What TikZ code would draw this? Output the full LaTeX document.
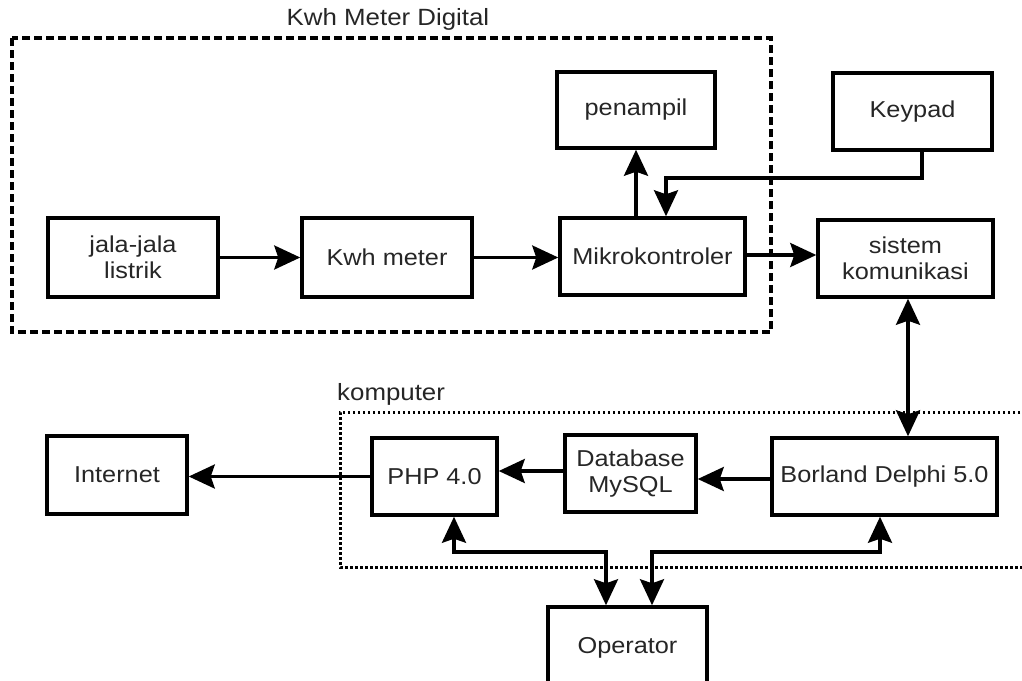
\documentclass[tikz,border=0pt]{standalone}
\usepackage{fontspec}
\setmainfont{Liberation Sans}[FakeStretch=1.1]
\usetikzlibrary{arrows.meta}
\begin{document}
\begin{tikzpicture}[x=1pt,y=-1pt,
  blk/.style={draw=black, line width=3.5pt, rectangle, inner sep=0pt, align=center,
    font=\fontsize{23}{25.5}\selectfont, text=black!85},
  arr/.style={line width=3.2pt, -{Stealth[length=26pt,width=24pt,inset=4pt]}},
  darr/.style={line width=3.2pt, {Stealth[length=26pt,width=24pt,inset=4pt]}-{Stealth[length=26pt,width=24pt,inset=4pt]}},
  grp/.style={line width=3.5pt, dash pattern=on 8pt off 4pt},
  dotgrp/.style={line width=3pt, dash pattern=on 2.5pt off 2.5pt},
  lbl/.style={font=\fontsize{23.5}{25}\selectfont, text=black!85, inner sep=0pt}]
\useasboundingbox (0,0) rectangle (1022,680);
\clip (0,0) rectangle (1022,680);
% groups
\draw[grp] (12,38) rectangle (771,332);
\node[lbl] (kmdlabel) at (388,19) {Kwh Meter Digital};
\draw[dotgrp] (1030,412) -- (340,412) -- (340,567) -- (1030,567);
\node[lbl, anchor=south west] (komplabel) at (337,406) {komputer};
% blocks
\node[blk, minimum width=170pt, minimum height=79pt] (jala) at (133,257.5) {jala-jala\\listrik};
\node[blk, minimum width=170pt, minimum height=79pt] (kwh) at (387,257.5) {Kwh meter};
\node[blk, minimum width=185pt, minimum height=77pt] (mikro) at (652.5,256.5) {Mikrokontroler};
\node[blk, minimum width=158pt, minimum height=76pt] (penampil) at (636,110) {penampil};
\node[blk, minimum width=159pt, minimum height=77pt] (keypad) at (912.5,111.5) {Keypad};
\node[blk, minimum width=175pt, minimum height=77pt] (sistem) at (905.5,258.5) {sistem\\komunikasi};
\node[blk, minimum width=140pt, minimum height=78pt] (internet) at (117,475) {Internet};
\node[blk, minimum width=125pt, minimum height=77pt] (php) at (434.5,476.5) {PHP 4.0};
\node[blk, minimum width=131pt, minimum height=77pt] (db) at (630.5,473.5) {Database\\MySQL};
\node[blk, minimum width=225pt, minimum height=77pt] (borland) at (884.5,476.5) {Borland Delphi 5.0};
\node[blk, minimum width=159pt, minimum height=86pt, text depth=0pt] (operator) at (627.5,650) {\raisebox{10pt}{Operator}};
% connectors
\coordinate (k1) at (666,178);
\coordinate (o1) at (606,552);
\coordinate (o2) at (652,552);
\draw[arr] (jala.east) -- (kwh.west);
\draw[arr] (kwh.west -| kwh.east) -- (kwh.west -| mikro.west);
\draw[arr] ([yshift=1.5pt]mikro.east) -- ([yshift=1.5pt]mikro.east -| sistem.west);
\draw[arr] (mikro.north -| penampil.south) -- (penampil.south);
\draw[arr] ([xshift=9.5pt]keypad.south) |- (k1) -- (k1 |- mikro.north);
\draw[darr] ([xshift=2.5pt]sistem.south) -- ([xshift=2.5pt]sistem.south |- borland.north);
\draw[arr] ([yshift=-2.5pt]borland.west) -- ([yshift=-2.5pt]borland.west -| db.east);
\draw[arr] ([yshift=2.5pt]db.west) -- ([yshift=2.5pt]db.west -| php.east);
\draw[arr] (php.west) -- (php.west -| internet.east);
\draw[darr] ([xshift=19.5pt]php.south) |- (o1) -- (o1 |- operator.north);
\draw[darr] ([xshift=-4.5pt]borland.south) |- (o2) -- (o2 |- operator.north);
\end{tikzpicture}
\end{document}
